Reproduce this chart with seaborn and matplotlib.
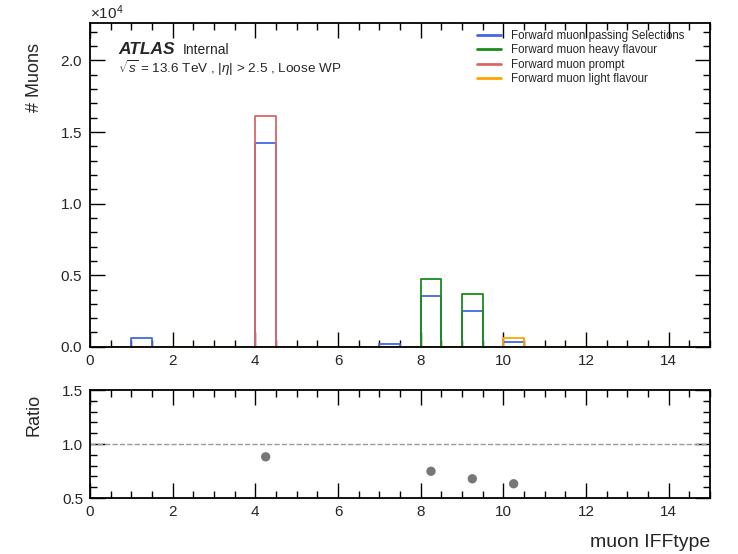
import numpy as np
import pandas as pd
import matplotlib
matplotlib.use("Agg")
import matplotlib.pyplot as plt
import seaborn as sns
from matplotlib.lines import Line2D
from matplotlib.ticker import MultipleLocator, ScalarFormatter

# ---- data ----
bin_lo = [1.0, 4.0, 7.0, 8.0, 9.0, 10.0]           # left edges of occupied bins (width 0.5)
passing = [600, 14240, 180, 3560, 2510, 370]         # Forward muon passing Selections
heavy = [0, 0, 0, 4760, 3700, 0]                     # Forward muon heavy flavour
prompt = [0, 16150, 0, 0, 0, 0]                      # Forward muon prompt
light = [0, 0, 0, 0, 0, 585]                         # Forward muon light flavour
labels = ["Forward muon passing Selections", "Forward muon heavy flavour",
          "Forward muon prompt", "Forward muon light flavour"]
colors = ["#4169e1", "#1a8c1a", "#d9676b", "#ffa500"]
bin_width = 0.5

sns.set_theme(style="ticks")
plt.rcParams["font.family"] = ["Liberation Sans", "DejaVu Sans"]
plt.rcParams["mathtext.fontset"] = "custom"
plt.rcParams["mathtext.rm"] = "Liberation Sans"
plt.rcParams["mathtext.it"] = "Liberation Sans:italic"

rows = []
for lab, vals in zip(labels, [passing, heavy, prompt, light]):
    for x0, v in zip(bin_lo, vals):
        rows.append({"x": x0 + bin_width / 2, "w": v, "cat": lab})
df = pd.DataFrame(rows)

fig = plt.figure(figsize=(7.38, 5.54), dpi=100)
ax = fig.add_axes([0.122, 0.374, 0.840, 0.584])
axr = fig.add_axes([0.122, 0.101, 0.840, 0.195])

# passing drawn first, the truth categories on top of it
for i in [0, 1, 2, 3]:
    sub = df[df["cat"] == labels[i]]
    sns.histplot(data=sub, x="x", weights="w", binwidth=bin_width,
                 binrange=(0, 15), element="step",
                 fill=False, color=colors[i], linewidth=1.3, ax=ax)

ax.set_xlim(0, 15)
ax.set_ylim(0, 22600)
ax.set_xlabel("")
ax.set_ylabel("# Muons", fontsize=13)
fmt = ScalarFormatter(useMathText=True)
fmt.set_powerlimits((0, 0))
ax.yaxis.set_major_formatter(fmt)
ax.yaxis.offsetText.set_fontsize(11)
ax.yaxis.set_major_locator(MultipleLocator(5000))
ax.yaxis.set_minor_locator(MultipleLocator(1000))
ax.xaxis.set_major_locator(MultipleLocator(2))
ax.xaxis.set_minor_locator(MultipleLocator(0.5))

handles = [Line2D([0], [0], color=c, lw=2) for c in colors]
ax.legend(handles, labels, loc="upper left", frameon=False, fontsize=8.3,
          handlelength=2.1, handletextpad=0.85, labelspacing=0.2,
          borderpad=0.4, bbox_to_anchor=(0.607, 1.011))

ax.text(0.045, 0.905, "ATLAS", transform=ax.transAxes, fontsize=12.5,
        fontweight="bold", fontstyle="italic")
ax.text(0.150, 0.905, "Internal", transform=ax.transAxes, fontsize=10)
ax.text(0.045, 0.845, r"$\sqrt{s}$ = 13.6 TeV , $|\eta|$ > 2.5 , Loose WP",
        transform=ax.transAxes, fontsize=9.7)

# ratio panel
num = np.array(passing, dtype=float)
den = np.array(heavy) + np.array(prompt) + np.array(light)
mask = den > 0
rdf = pd.DataFrame({"x": (np.array(bin_lo) + bin_width / 2)[mask],
                    "r": num[mask] / den[mask]})
sns.scatterplot(data=rdf, x="x", y="r", color="#777777", s=45,
                edgecolor="none", ax=axr, zorder=3)
axr.axhline(1.0, color="#999999", ls="--", lw=1)
axr.set_xlim(0, 15)
axr.set_ylim(0.5, 1.5)
axr.set_ylabel("Ratio", fontsize=13)
axr.set_xlabel("muon IFFtype", fontsize=14, labelpad=14)
axr.xaxis.set_label_coords(1.0, -0.33)
axr.xaxis.label.set_horizontalalignment("right")
axr.xaxis.set_major_locator(MultipleLocator(2))
axr.xaxis.set_minor_locator(MultipleLocator(0.5))
axr.yaxis.set_major_locator(MultipleLocator(0.5))
axr.yaxis.set_minor_locator(MultipleLocator(0.1))
axr.yaxis.set_major_formatter(matplotlib.ticker.FormatStrFormatter("%.1f"))

for a in (ax, axr):
    a.tick_params(which="both", direction="in", top=True, right=True,
                  labelsize=11, color="black")
    a.tick_params(which="major", length=11, width=1, pad=5)
    a.tick_params(which="minor", length=5, width=1)
    for s in a.spines.values():
        s.set_color("black")
        s.set_linewidth(1.3)
        s.set_zorder(5)

ax.yaxis.set_label_coords(-0.076, 0.94)
ax.yaxis.label.set_horizontalalignment("right")
axr.yaxis.set_label_coords(-0.076, 0.77)

fig.savefig("out.png", dpi=100)
